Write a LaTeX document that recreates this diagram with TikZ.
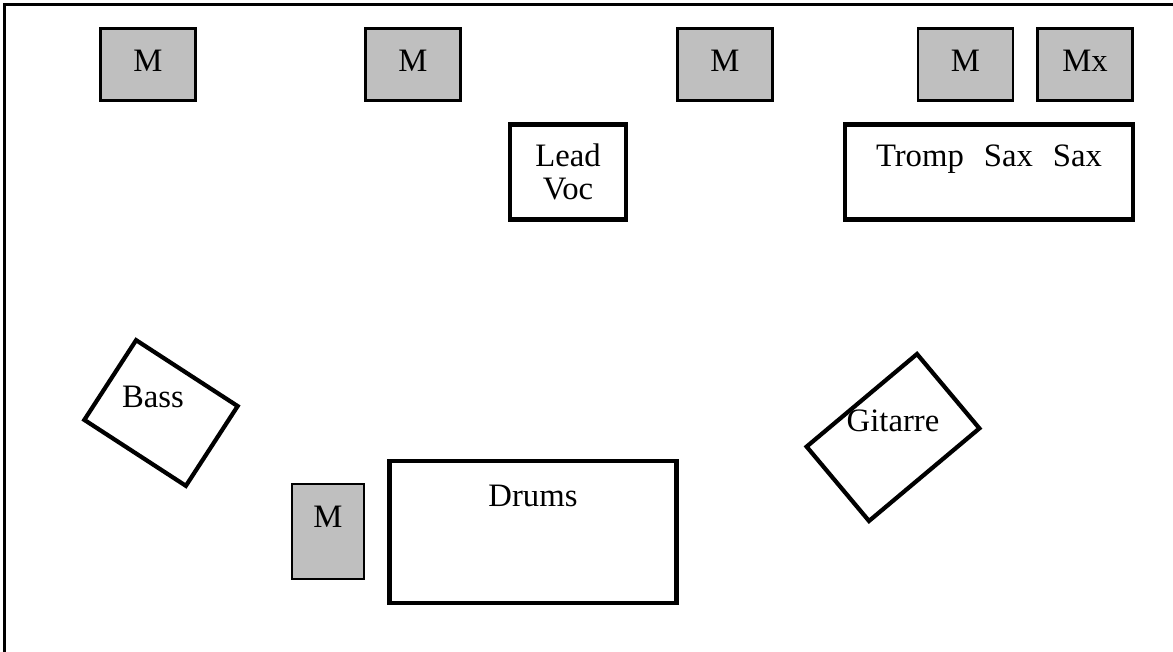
\documentclass[tikz,border=0pt]{standalone}
\usepackage{fontspec}
\setmainfont{Liberation Serif}
\usetikzlibrary{positioning}
\tikzset{
  mon/.style={draw,fill=black!25,line width=0.6pt,inner sep=0pt,text depth=0.8mm,
    minimum width=0.95cm,minimum height=0.72cm},
  band/.style={draw,line width=1.2pt,inner sep=0pt},
  lbl/.style={inner sep=0pt}
}
\begin{document}
\begin{tikzpicture}[x=0.01cm,y=-0.01cm,font=\fontsize{9.3}{9.4}\selectfont]
  \useasboundingbox (0,0) rectangle (1173,652);
  % stage frame
  \draw[line width=0.6pt] (4.5,652) -- (4.5,4.5) -- (1173,4.5);
  % monitors
  \node[mon] (m1) at (148,64.5) {M};
  \node[mon] (m2) at (413,64.5) {M};
  \node[mon] (m3) at (725,64.5) {M};
  \node[mon] (m4) at (965.5,64.5) {M};
  \node[mon] (mx) at (1085,64.5) {Mx};
  \node[mon,minimum width=0.72cm,minimum height=0.95cm] (m5) at (328,531.5) {};
  \node[lbl] (m5txt) [below=0.22cm of m5.north] {M};
  % musicians
  \node[band,minimum width=1.16cm,minimum height=0.95cm,align=center] (lead) at (568,172) {Lead\\Voc};
  \node[band,minimum width=2.88cm,minimum height=0.95cm] (horns) at (989,172) {};
  \node[lbl] (hornstxt) [below=0.22cm of horns.north] {Tromp\hspace{0.2cm}Sax\hspace{0.2cm}Sax};
  \node[band,minimum width=2.87cm,minimum height=1.42cm] (drums) at (533,532) {};
  \node[lbl] (drumstxt) [below=0.26cm of drums.north] {Drums};
  \node[band,minimum width=1.21cm,minimum height=0.95cm,rotate=-33] (bass) at (161,413) {};
  \node[lbl] (basstxt) at (153,397) {Bass};
  \node[band,minimum width=1.44cm,minimum height=0.97cm,rotate=40] (git) at (893,437.5) {};
  \node[lbl] (gittxt) at (893,421) {Gitarre};
\end{tikzpicture}
\end{document}
